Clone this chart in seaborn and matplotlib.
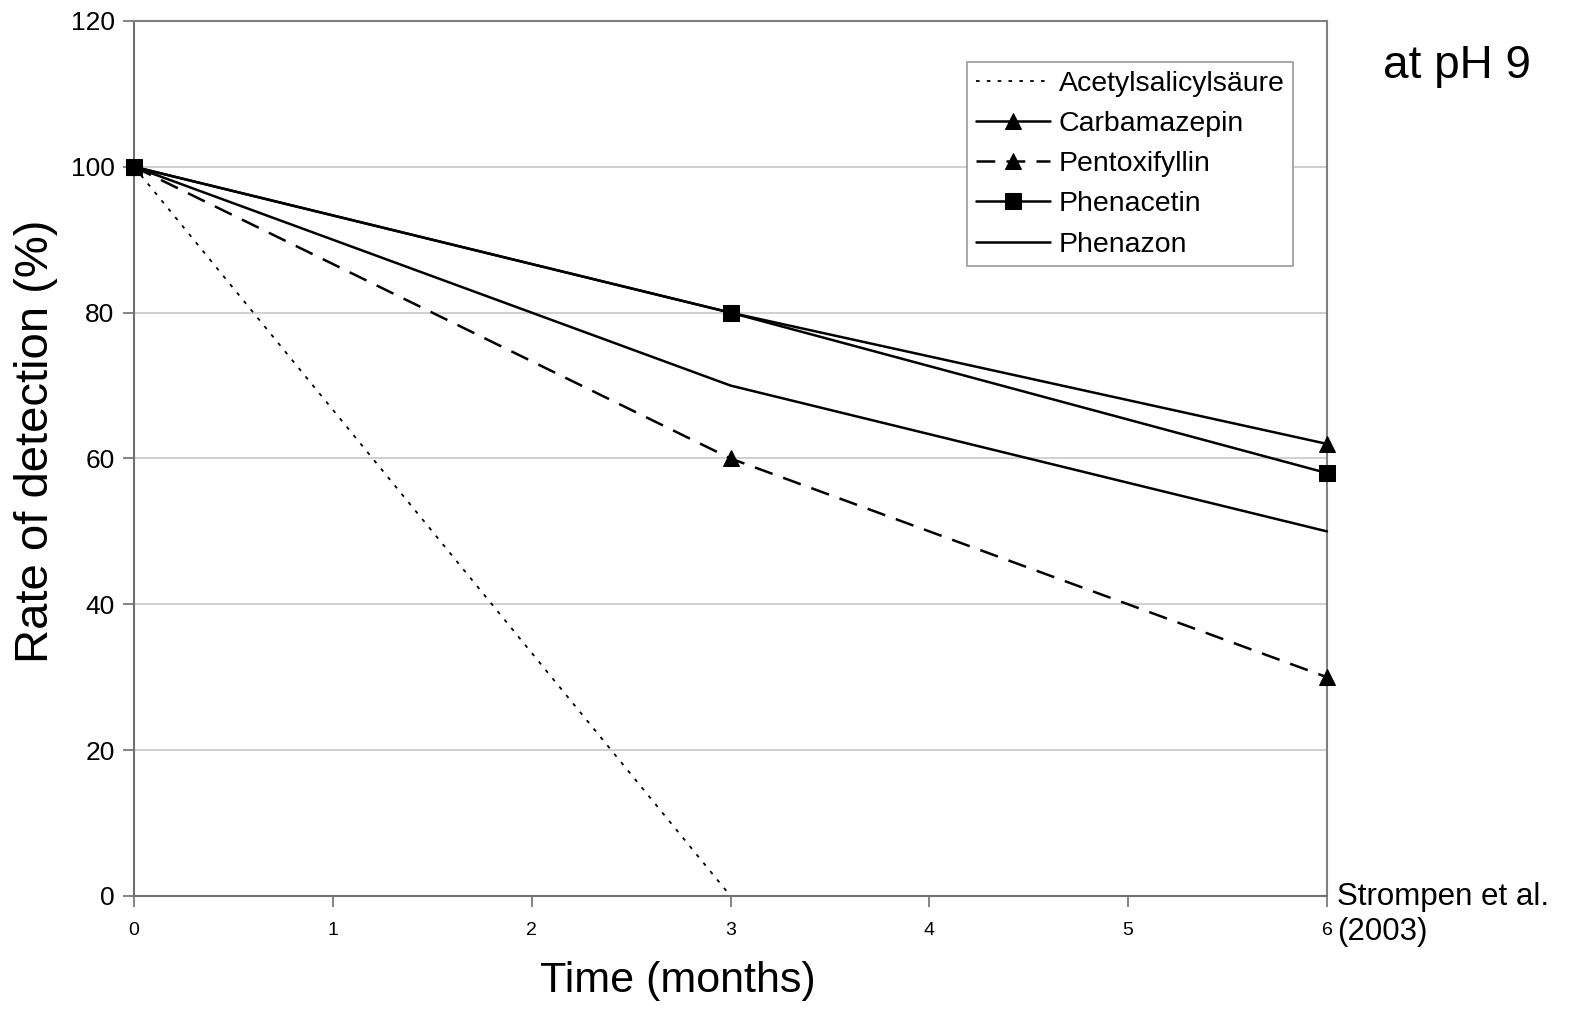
import matplotlib
matplotlib.use("Agg")
import matplotlib.pyplot as plt
import pandas as pd
import seaborn as sns

# data
months = [0, 3, 6]
acetyl_months = [0, 3]
acetyl = [100, 0]
carbamazepin = [100, 80, 62]
pentoxifyllin = [100, 60, 30]
phenacetin = [100, 80, 58]
phenazon = [100, 70, 50]

sns.set_theme(style="white")
plt.rcParams["font.family"] = ["Liberation Sans", "DejaVu Sans"]
plt.rcParams["text.color"] = "black"
plt.rcParams["axes.labelcolor"] = "black"
plt.rcParams["xtick.labelcolor"] = "black"
plt.rcParams["ytick.labelcolor"] = "black"

fig = plt.figure(figsize=(15.79, 10.14), dpi=100)
ax = fig.add_axes([0.0849, 0.1164, 0.7555, 0.8629])

series = [
    ("Acetylsalicylsäure", acetyl_months, acetyl, dict(linestyle=(0, (2, 4)), linewidth=1.3)),
    ("Carbamazepin", months, carbamazepin, dict(linestyle="-", marker="^", markersize=12)),
    ("Pentoxifyllin", months, pentoxifyllin, dict(linestyle=(0, (7.5, 4.5)), marker="^", markersize=12)),
    ("Phenacetin", months, phenacetin, dict(linestyle="-", marker="s", markersize=12)),
    ("Phenazon", months, phenazon, dict(linestyle="-")),
]
for name, xs, ys, kw in series:
    df = pd.DataFrame({"x": xs, "y": ys})
    kw.setdefault("linewidth", 1.8)
    sns.lineplot(data=df, x="x", y="y", ax=ax, color="black", label=name,
                 markeredgecolor="black", clip_on=False, zorder=3, **kw)

ax.set_xlim(0, 6)
ax.set_ylim(0, 120)
ax.set_xticks(range(0, 7))
ax.set_yticks(range(0, 121, 20))
ax.grid(axis="y", color="#c8c8c8", linewidth=1.2)
ax.set_axisbelow(True)
for side in ["top", "right"]:
    ax.spines[side].set_color("#808080")
    ax.spines[side].set_linewidth(1.5)
for side in ["left", "bottom"]:
    ax.spines[side].set_color("#707070")
    ax.spines[side].set_linewidth(1.5)
ax.tick_params(axis="y", which="both", left=True, length=8, width=1.2,
               color="#707070", labelsize=19, pad=6)
ax.tick_params(axis="x", which="both", bottom=True, length=8, width=1.2,
               color="#707070", labelsize=14, pad=11)

ax.set_xlabel("Time (months)", fontsize=31)
ax.xaxis.set_label_coords(0.456, -0.074)
ax.set_ylabel("Rate of detection (%)", fontsize=34)
ax.yaxis.set_label_coords(-0.064, 0.52)

leg = ax.legend(loc="upper right", bbox_to_anchor=(0.9715, 0.953), fontsize=20.5,
                frameon=True, fancybox=False, framealpha=1, edgecolor="#999999",
                handlelength=2.6, handletextpad=0.3, borderpad=0.3,
                labelspacing=0.5, borderaxespad=0)
leg.get_frame().set_linewidth(1.2)

fig.text(0.876, 0.935, "at pH 9", fontsize=33, ha="left", va="center")
fig.text(0.847, 0.098, "Strompen et al.\n(2003)", fontsize=22.5, ha="left",
         va="center", linespacing=1.2)

fig.savefig("out.png", dpi=100)
